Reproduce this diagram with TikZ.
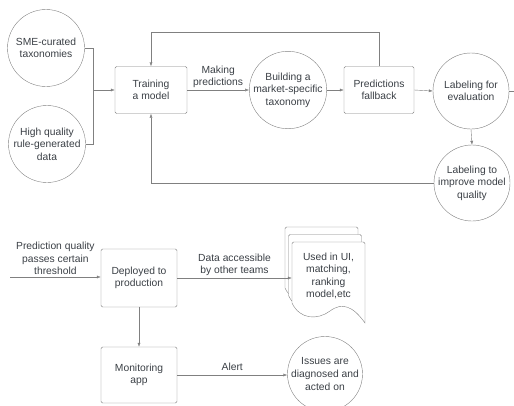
\documentclass[tikz,border=0pt]{standalone}
\usepackage{fontspec}
\setmainfont{Liberation Sans}
\usetikzlibrary{arrows.meta}

\definecolor{linegray}{HTML}{808080}
\definecolor{textgray}{HTML}{3A3F45}

\tikzset{
	base/.style={draw=linegray,text=textgray,align=center,font=\fontsize{10.3}{12.6}\selectfont,inner sep=0pt},
	stage/.style={base,rectangle,rounded corners=1.5pt},
	disc/.style={base,circle,minimum size=77pt},
	arr/.style={-{Latex[length=4pt,width=3pt]}},
	lbl/.style={text=textgray,align=center,font=\fontsize{10.3}{12.6}\selectfont,inner sep=2pt}
}

\begin{document}
\begin{tikzpicture}[x=1pt,y=-1pt,thin,draw=linegray]

	\clip (0,0) rectangle (514,405);

	% training loop
	\node[disc] (sme) at (46,48) {SME-curated\\taxonomies};
	\node[disc] (rule) at (47,144) {High quality\\rule-generated\\data};
	\node[stage,minimum width=72pt,minimum height=47pt] (train) at (151,90) {Training\\a model};
	\node[disc,minimum size=76pt] (build) at (288,90) {Building a\\market-specific\\taxonomy};
	\node[stage,minimum width=70pt,minimum height=47pt] (fallback) at (379,90) {Predictions\\fallback};
	\node[disc,minimum size=76pt] (labeval) at (471,91) {Labeling for\\evaluation};
	\node[disc,minimum size=76pt] (labimp) at (472,183) {Labeling to\\improve model\\quality};

	\coordinate (join) at (93,90);
	\coordinate (offright) at (514,91);

	\draw[linegray] (sme.east) -| (join);
	\draw[linegray] (rule.east) -| (join);
	\draw[linegray,arr] (join) -- (train.west);
	\draw[linegray,arr] (train.east) -- node[lbl,above] {Making\\predictions} (build.west);
	\draw[linegray,arr] (build.east) -- (fallback.west);
	\draw[linegray,arr] (fallback.east) -- (labeval.west);
	\draw[linegray] (labeval.east) -- (offright);
	\draw[linegray,arr] (labeval.south) -- (labimp.north);
	\draw[linegray,arr] (fallback.north) -- ++(0,-34) -| (train.north);
	\draw[linegray,arr] (labimp.west) -| (train.south);

	% deployment
	\node[stage,minimum width=76pt,minimum height=58pt] (deploy) at (139,278) {Deployed to\\production};
	\node[stage,minimum width=76pt,minimum height=56pt] (monitor) at (139,375) {Monitoring\\app};
	\node[disc,minimum size=75pt] (issues) at (325,374) {Issues are\\diagnosed and\\acted on};

	\foreach \dx/\dy in {-7/-15,-3.5/-7.5,0/0}
		\draw[linegray,fill=white,shift={(\dx,\dy)}]
			(292,303) -- (292,244) [rounded corners=1.5pt] -- (292,242) -- (365,242) [sharp corners] -- (365,323)
			.. controls (353,306) and (342,302) .. (330,311)
			.. controls (318,320) and (300,320) .. (292,303) -- cycle;
	\node[lbl,minimum width=73pt,inner sep=0pt] (docs) at (328.5,276) {Used in UI,\\matching,\\ranking\\model,etc};

	\coordinate (start) at (10,277);

	\draw[linegray,arr] (start) -- node[lbl,above] {Prediction quality\\passes certain\\threshold} (deploy.west |- start);
	\draw[linegray,arr] (deploy.east) -- node[lbl,above] {Data accessible\\by other teams} (deploy.east -| docs.west);
	\draw[linegray,arr] (deploy.south) -- (monitor.north);
	\draw[linegray,arr] (monitor.east) -- node[lbl,above,yshift=2pt] {Alert} (issues.west |- monitor.east);

\end{tikzpicture}
\end{document}
